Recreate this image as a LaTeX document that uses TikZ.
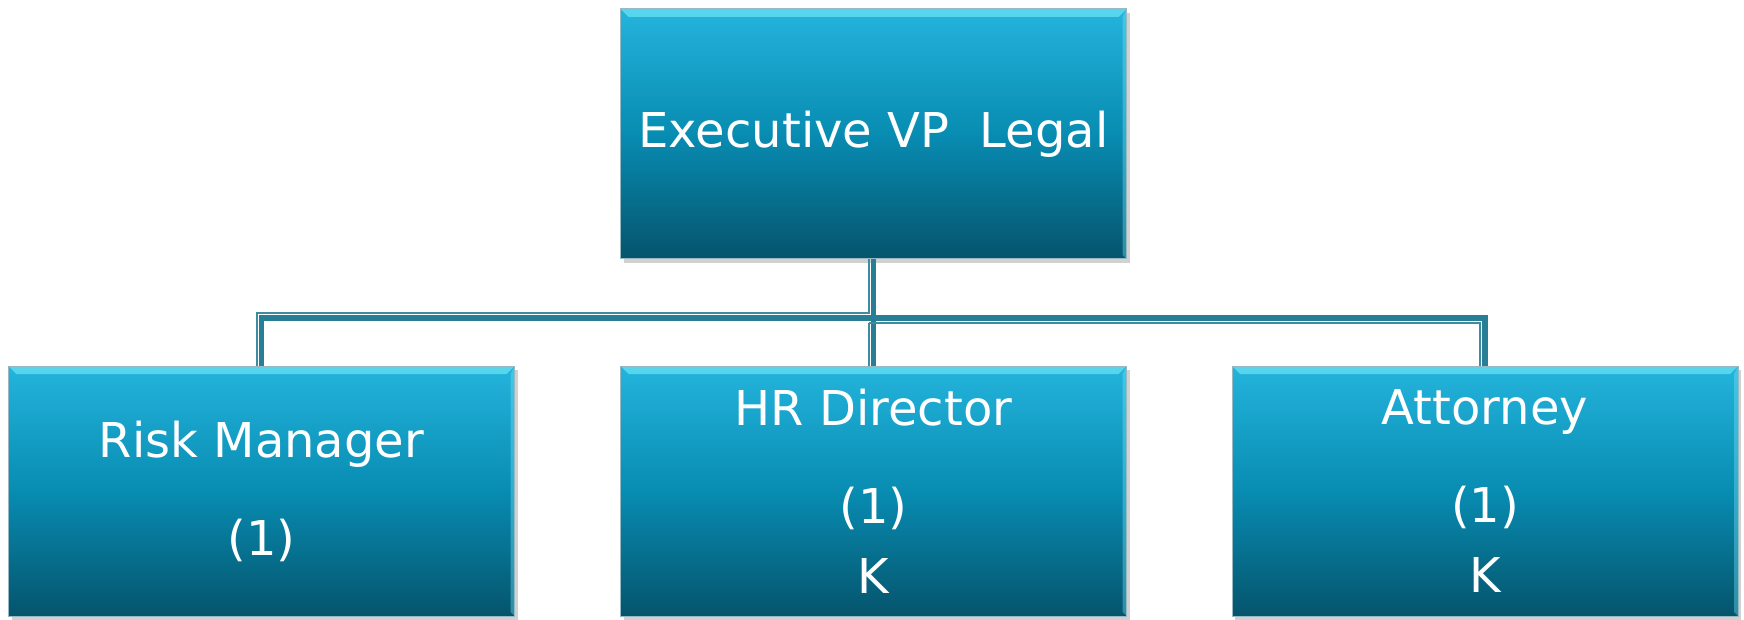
\documentclass[tikz,border=0pt]{standalone}
\usepackage{fontspec}
\setmainfont{DejaVu Sans}
\usetikzlibrary{shadows}

\definecolor{boxtop}{RGB}{36,180,220}
\definecolor{boxmid}{RGB}{8,140,178}
\definecolor{boxbottom}{RGB}{5,84,108}
\definecolor{boxedge}{RGB}{150,185,195}
\definecolor{bevel}{RGB}{110,228,246}
\definecolor{linkc}{RGB}{40,126,148}
\definecolor{linklite}{RGB}{60,140,162}

\begin{document}
\begin{tikzpicture}[x=0.5pt,y=-0.5pt]

    \tikzset{post/.style={%
      draw=boxedge,%
      line width=0.5pt,%
      rectangle,%
      top color=boxtop,%
      bottom color=boxbottom,%
      middle color=boxmid,%
      minimum width=253pt,%
      minimum height=125pt,%
      text=white,%
      align=center,%
      font=\fontsize{24}{35}\selectfont,%
      drop shadow={shadow xshift=1.5pt, shadow yshift=-2pt, fill=black!45, opacity=0.4},%
      path picture={%
        \fill[bevel, opacity=0.7] (path picture bounding box.north west)
          -- (path picture bounding box.north east)
          -- ([shift={(-4pt,-4pt)}]path picture bounding box.north east)
          -- ([shift={(4pt,-4pt)}]path picture bounding box.north west) -- cycle;
        \fill[bevel, opacity=0.4] (path picture bounding box.north east)
          -- (path picture bounding box.south east)
          -- ([shift={(-2pt,2pt)}]path picture bounding box.south east)
          -- ([shift={(-2pt,-4pt)}]path picture bounding box.north east) -- cycle;
      }}%
    };

    \tikzset{link/.style={draw=linkc, line width=2.6pt}};
    \tikzset{linkthin/.style={draw=linklite, line width=0.8pt}};

    \useasboundingbox (0,0) rectangle (1744,620);

    %%%%%%%%%%%%%%%
    %   boxes     %
    %%%%%%%%%%%%%%%
    \node [post] (evp) at (873.5,134) {Executive VP\ \ Legal};
    \node [post] (risk) at (261.5,491) {Risk Manager\\[14pt](1)};
    \node [post] (hr) at (873.5,491) {HR Director\\[14pt](1)\\K};
    \node [post] (att) at (1485,491) {Attorney\\[14pt](1)\\K};

    \coordinate (bus) at (873.5,318);

    \draw [link] (evp.south) -- (bus) -| (risk.north);
    \draw [link] (bus) -- (hr.north);
    \draw [link] (bus) -| (att.north);

    \draw [linkthin] ([xshift=-2.4pt]evp.south) -- ([shift={(-2.4pt,2.4pt)}]bus) -| ([xshift=-2.4pt]risk.north);
    \draw [linkthin] ([shift={(-2.4pt,-2.4pt)}]bus) -- ([xshift=-2.4pt]hr.north);
    \draw [linkthin] ([shift={(-2.4pt,-2.4pt)}]bus) -| ([xshift=-2.4pt]att.north);

  \end{tikzpicture}
\end{document}
